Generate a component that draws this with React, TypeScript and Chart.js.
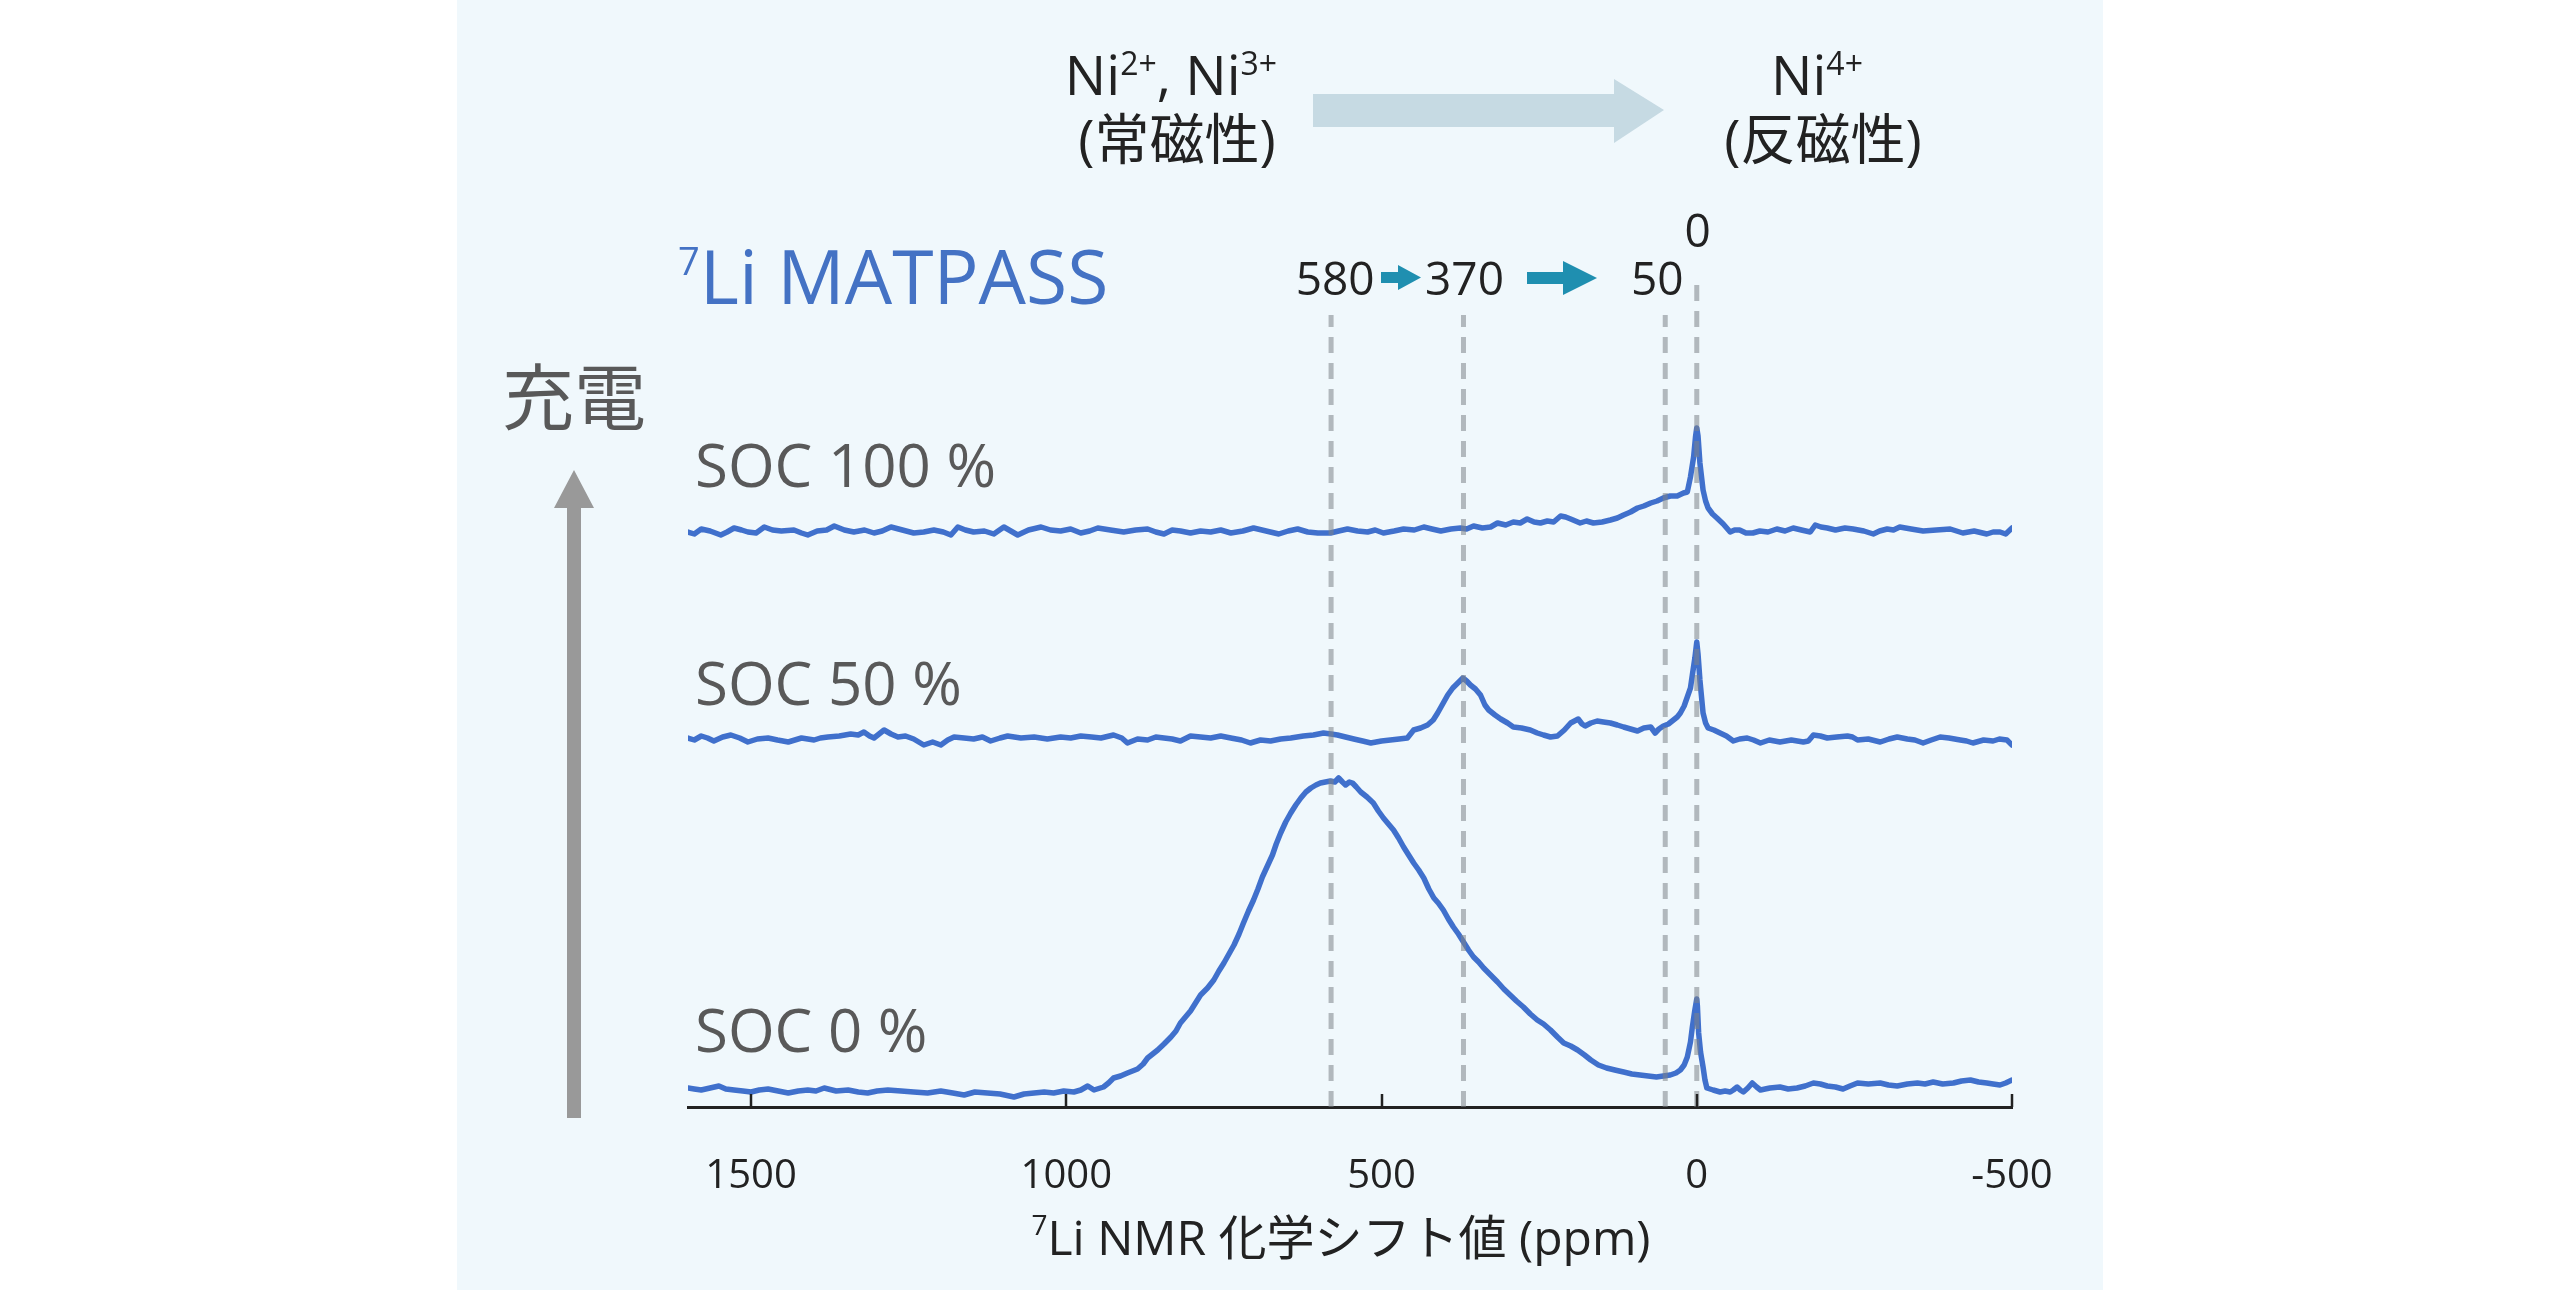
import { useEffect, useRef } from 'react';
import { Chart, registerables } from 'chart.js';

Chart.register(...registerables);

// ---- data: 7Li MATPASS spectra, [chemical shift (ppm), intensity (a.u., relative to each trace's baseline)] ----
const soc0: [number, number][] = [
  [1600, 4], [1590, 3], [1579, 2], [1565, 4], [1551, 6], [1540, 3], [1527, 2], [1513, 1], [1500, 0], [1487, 2],
  [1473, 3], [1457, 1], [1441, -1], [1425, 1], [1410, 2], [1397, 1], [1384, 4], [1365, 1], [1346, 2], [1330, 0],
  [1315, -1], [1300, 1], [1283, 2], [1262, 1], [1242, 0], [1220, -1], [1199, 1], [1180, -1], [1162, -3], [1145, 0],
  [1125, -1], [1105, -2], [1083, -5], [1067, -2], [1051, -1], [1035, 0], [1020, -1], [1004, 1], [988, 0], [977, 2],
  [966, 6], [956, 2], [941, 5], [933, 9], [925, 14], [914, 16], [903, 19], [895, 21], [887, 23], [878, 28],
  [871, 34], [863, 38], [855, 42], [845, 48], [834, 55], [826, 61], [819, 69], [811, 75], [803, 81], [795, 89],
  [787, 97], [776, 104], [766, 112], [758, 121], [750, 129], [742, 138], [734, 147], [726, 158], [719, 169], [711, 181],
  [703, 192], [696, 203], [689, 215], [681, 226], [673, 237], [667, 248], [660, 259], [652, 270], [644, 279], [636, 287],
  [628, 294], [620, 300], [612, 304], [604, 307], [597, 309], [589, 310], [581, 311], [574, 310], [568, 314], [562, 310],
  [557, 307], [551, 310], [546, 309], [540, 305], [533, 300], [523, 295], [513, 289], [505, 281], [497, 274], [489, 268],
  [481, 262], [473, 254], [465, 245], [457, 237], [449, 229], [441, 222], [433, 214], [425, 203], [417, 194], [410, 189],
  [402, 182], [394, 173], [386, 165], [378, 158], [370, 150], [362, 142], [354, 135], [346, 130], [338, 124], [327, 117],
  [316, 110], [306, 103], [296, 97], [286, 91], [275, 85], [264, 78], [253, 72], [243, 68], [232, 62], [221, 55],
  [211, 49], [200, 46], [189, 42], [178, 37], [168, 32], [156, 27], [143, 24], [130, 22], [116, 20], [103, 18],
  [90, 17], [77, 16], [64, 15], [53, 16], [42, 17], [33, 19], [26, 22], [20, 27], [15, 35], [10, 50],
  [7, 65], [3, 82], [0, 93], [-1, 86], [-3, 59], [-6, 40], [-10, 25], [-13, 12], [-16, 4], [-26, 2],
  [-37, 0], [-45, 1], [-53, 0], [-58, 2], [-64, 5], [-69, 2], [-74, 0], [-81, 4], [-88, 9], [-95, 5],
  [-101, 2], [-116, 4], [-132, 5], [-145, 3], [-159, 4], [-172, 6], [-185, 9], [-196, 8], [-207, 6], [-220, 5],
  [-232, 3], [-243, 6], [-255, 9], [-272, 8], [-291, 9], [-304, 7], [-318, 6], [-334, 8], [-350, 9], [-362, 8],
  [-375, 10], [-390, 8], [-407, 9], [-420, 11], [-434, 12], [-447, 10], [-460, 9], [-470, 8], [-481, 7], [-490, 9],
  [-500, 12],
];

const soc50: [number, number][] = [
  [1600, 0], [1590, -2], [1579, 2], [1569, 0], [1559, -3], [1545, 1], [1532, 3], [1518, 0], [1505, -4], [1490, -1],
  [1473, 0], [1458, -2], [1441, -4], [1420, 0], [1400, -2], [1390, 0], [1378, 1], [1360, 2], [1342, 4], [1330, 3],
  [1321, 6], [1312, 2], [1305, 0], [1289, 8], [1278, 4], [1267, 1], [1255, 2], [1242, -1], [1226, -7], [1212, -4],
  [1199, -7], [1188, -2], [1178, 1], [1162, 0], [1147, -1], [1133, 1], [1120, -3], [1105, 0], [1093, 2], [1072, 0],
  [1051, 1], [1030, -1], [1009, 1], [993, 0], [977, 2], [960, 1], [945, 0], [925, 3], [912, 0], [903, -5],
  [887, -1], [871, -2], [858, 1], [845, 0], [832, -1], [819, -3], [803, 2], [787, 1], [771, 0], [755, 2],
  [739, 0], [722, -2], [708, -5], [692, -2], [676, -3], [660, -1], [644, 0], [634, 1], [624, 2], [608, 3],
  [592, 5], [580, 4], [570, 3], [557, 1], [544, -1], [530, -3], [517, -5], [500, -3], [486, -2], [472, -1],
  [459, 0], [449, 8], [438, 10], [427, 13], [418, 18], [411, 25], [403, 34], [395, 43], [387, 50], [379, 55],
  [371, 60], [365, 57], [359, 53], [351, 49], [343, 43], [336, 33], [330, 28], [320, 23], [311, 19], [300, 15],
  [291, 11], [278, 10], [264, 8], [253, 5], [243, 3], [232, 1], [221, 2], [210, 8], [200, 15], [194, 17],
  [188, 19], [182, 14], [177, 12], [168, 15], [158, 17], [148, 16], [137, 15], [126, 13], [116, 11], [105, 9],
  [94, 7], [84, 10], [73, 11], [66, 5], [60, 9], [53, 12], [45, 14], [37, 18], [31, 21], [26, 25],
  [20, 32], [15, 41], [10, 50], [7, 63], [3, 80], [0, 96], [-2, 84], [-5, 58], [-10, 25], [-14, 15],
  [-18, 10], [-27, 8], [-37, 5], [-47, 2], [-58, -3], [-68, -1], [-80, 0], [-90, -2], [-101, -5], [-115, -2],
  [-132, -4], [-150, -2], [-169, -4], [-177, -3], [-185, 3], [-196, 2], [-207, 0], [-222, 1], [-239, 2], [-247, 1],
  [-255, -2], [-272, -1], [-291, -4], [-305, -1], [-318, 1], [-334, -1], [-346, -2], [-359, -5], [-372, -2], [-386, 1],
  [-400, 0], [-418, -2], [-428, -3], [-438, -5], [-455, -2], [-470, -3], [-480, -1], [-492, -2], [-500, -7],
];

const soc100: [number, number][] = [
  [1600, 0], [1590, -2], [1579, 3], [1565, 1], [1548, -3], [1538, 0], [1527, 4], [1515, 2], [1505, 0], [1492, -1],
  [1479, 5], [1466, 2], [1452, 1], [1432, 2], [1420, -1], [1410, -3], [1395, 1], [1380, 2], [1368, 6], [1352, 2],
  [1337, 0], [1320, 2], [1305, -1], [1292, 1], [1278, 5], [1260, 2], [1242, -1], [1226, 0], [1210, 2], [1195, 0],
  [1183, -3], [1172, 5], [1160, 2], [1147, 0], [1130, 1], [1115, -2], [1099, 5], [1088, 1], [1077, -3], [1060, 2],
  [1040, 5], [1025, 2], [1009, 1], [993, 3], [977, -1], [963, 1], [950, 4], [930, 2], [909, 0], [890, 2],
  [871, 3], [858, 0], [845, -2], [832, 2], [819, 1], [803, -1], [787, 1], [771, 0], [755, 2], [739, -1],
  [720, 1], [703, 4], [683, 1], [663, -2], [648, 1], [633, 3], [617, 0], [601, -1], [581, -1], [568, 1],
  [554, 3], [538, 1], [522, 0], [510, 2], [497, -1], [480, 1], [465, 3], [448, 2], [433, 5], [420, 3],
  [406, 1], [390, 3], [375, 4], [365, 3], [354, 6], [340, 4], [327, 5], [316, 9], [303, 7], [291, 10],
  [280, 9], [269, 13], [258, 10], [248, 9], [237, 11], [227, 10], [216, 16], [208, 15], [200, 13], [185, 9],
  [175, 11], [164, 9], [150, 10], [137, 12], [126, 14], [116, 17], [105, 20], [94, 24], [84, 26], [73, 29],
  [63, 31], [53, 34], [42, 36], [31, 36], [21, 39], [15, 40], [10, 55], [5, 75], [2, 95], [0, 104],
  [-2, 96], [-5, 69], [-10, 42], [-14, 31], [-18, 24], [-25, 18], [-32, 14], [-42, 8], [-53, 0], [-60, 2],
  [-68, 2], [-78, -1], [-89, -1], [-100, 1], [-113, 0], [-127, 3], [-140, 1], [-153, 4], [-166, 2], [-180, 0],
  [-188, 7], [-197, 5], [-207, 4], [-220, 2], [-235, 4], [-248, 3], [-265, 1], [-280, -2], [-290, 1], [-302, 3],
  [-312, 2], [-322, 5], [-340, 3], [-359, 1], [-380, 2], [-402, 3], [-412, 1], [-422, -1], [-440, 1], [-460, -2],
  [-470, 0], [-481, 0], [-490, -2], [-500, 4],
];

const traceLabels = ['SOC 0 %', 'SOC 50 %', 'SOC 100 %'];
const xTickValues = [1500, 1000, 500, 0, -500];
const peakShifts = [580, 370, 50, 0];

// ---- layout / style ----
const W = 2560;
const H = 1299;
const FONT = '"Open Sans", "Noto Sans", "Noto Sans CJK JP", sans-serif';
const PANEL_BG = '#f0f8fc';
const LINE_BLUE = '#4070cc';
const TEXT_DARK = '#222222';
const TEXT_GREY = '#595959';
const stackOffsets = [15, 369, 575]; // vertical offset of each trace (y-axis units)
const guideTop = { other: 792, zero: 829 }; // upper end of the dashed guides (y-axis units)
const traceLabelBaselines = [1052, 705, 487];
const peakLabelPlacement: Record<number, { dx: number; baseline: number }> = {
  580: { dx: 4, baseline: 295 },
  370: { dx: 1, baseline: 295 },
  50: { dx: -8, baseline: 295 },
  0: { dx: 1, baseline: 247 },
};

type Run = { text: string; size: number; rise?: number };

function drawRuns(
  ctx: CanvasRenderingContext2D,
  runs: Run[],
  x: number,
  baseline: number,
  align: 'left' | 'center',
  color: string,
) {
  ctx.fillStyle = color;
  ctx.textAlign = 'left';
  ctx.textBaseline = 'alphabetic';
  const widths = runs.map((r) => {
    ctx.font = `${r.size}px ${FONT}`;
    return ctx.measureText(r.text).width;
  });
  const total = widths.reduce((a, b) => a + b, 0);
  let cx = align === 'center' ? x - total / 2 : x;
  runs.forEach((r, i) => {
    ctx.font = `${r.size}px ${FONT}`;
    ctx.fillText(r.text, cx, baseline - (r.rise ?? 0));
    cx += widths[i];
  });
}

function fillPoly(ctx: CanvasRenderingContext2D, pts: [number, number][], color: string) {
  ctx.fillStyle = color;
  ctx.beginPath();
  pts.forEach(([px, py], i) => (i === 0 ? ctx.moveTo(px, py) : ctx.lineTo(px, py)));
  ctx.closePath();
  ctx.fill();
}

const decorPlugin = {
  id: 'nmrDecor',
  beforeDraw(chart: Chart) {
    const { ctx } = chart;
    ctx.save();
    ctx.fillStyle = PANEL_BG;
    ctx.fillRect(457, 0, 1646, 1290);
    ctx.restore();
  },
  afterDraw(chart: Chart) {
    const { ctx, chartArea } = chart;
    const xs = chart.scales.x;
    ctx.save();

    // inward tick marks on the shift axis
    ctx.strokeStyle = TEXT_DARK;
    ctx.lineWidth = 2.5;
    for (const t of xTickValues) {
      const px = Math.round(xs.getPixelForValue(t));
      ctx.beginPath();
      ctx.moveTo(px, chartArea.bottom);
      ctx.lineTo(px, chartArea.bottom - 13);
      ctx.stroke();
    }

    // axis title
    drawRuns(ctx, [{ text: '7', size: 28, rise: 20 }, { text: 'Li NMR 化学シフト値 (ppm)', size: 48 }], 1341, 1255, 'center', TEXT_DARK);

    // oxidation-state header with transition arrow
    drawRuns(ctx, [
      { text: 'Ni', size: 55 }, { text: '2+', size: 32, rise: 20 },
      { text: ', Ni', size: 55 }, { text: '3+', size: 32, rise: 20 },
    ], 1171, 95, 'center', TEXT_DARK);
    drawRuns(ctx, [{ text: '(常磁性)', size: 55 }], 1177, 159, 'center', TEXT_DARK);
    drawRuns(ctx, [{ text: 'Ni', size: 55 }, { text: '4+', size: 32, rise: 20 }], 1817, 95, 'center', TEXT_DARK);
    drawRuns(ctx, [{ text: '(反磁性)', size: 55 }], 1823, 159, 'center', TEXT_DARK);
    fillPoly(ctx, [[1313, 94], [1614, 94], [1614, 79], [1664, 110], [1614, 143], [1614, 127], [1313, 127]], '#c6dae3');

    // experiment title
    drawRuns(ctx, [{ text: '7', size: 38, rise: 29 }, { text: 'Li MATPASS', size: 75 }], 678, 304, 'left', '#4472c4');

    // charge direction
    drawRuns(ctx, [{ text: '充電', size: 72 }], 574, 424, 'center', TEXT_GREY);
    fillPoly(ctx, [[567, 1118], [567, 508], [554, 508], [574, 470], [594, 508], [581, 508], [581, 1118]], '#999999');

    // trace labels
    traceLabels.forEach((label, i) => {
      drawRuns(ctx, [{ text: label, size: 60 }], 695, traceLabelBaselines[i], 'left', TEXT_GREY);
    });

    // peak position labels above the dashed guides
    for (const p of peakShifts) {
      const place = peakLabelPlacement[p];
      drawRuns(ctx, [{ text: String(p), size: 46 }], xs.getPixelForValue(p) + place.dx, place.baseline, 'center', TEXT_DARK);
    }
    // shift arrows between the labels
    fillPoly(ctx, [[1381, 272], [1398, 272], [1398, 265], [1421, 277.5], [1398, 290], [1398, 283], [1381, 283]], '#1f8fb0');
    fillPoly(ctx, [[1527, 272], [1563, 272], [1563, 261], [1597, 278], [1563, 295], [1563, 284], [1527, 284]], '#1f8fb0');

    ctx.restore();
  },
};

export default function App() {
  const canvasRef = useRef<HTMLCanvasElement>(null);

  useEffect(() => {
    const canvas = canvasRef.current;
    if (!canvas) return;

    const traces = [soc0, soc50, soc100];
    const spectrumSets = traces.map((trace, i) => ({
      label: traceLabels[i],
      data: trace.map(([ppm, v]) => ({ x: ppm, y: v + stackOffsets[i] })),
      borderColor: LINE_BLUE,
      borderWidth: 5.5,
      borderJoinStyle: 'round',
      borderCapStyle: 'round',
      pointRadius: 0,
      tension: 0,
      fill: false,
      order: 2,
    }));
    const guideSets = peakShifts.map((p) => ({
      label: `${p} ppm`,
      data: [{ x: p, y: 0 }, { x: p, y: p === 0 ? guideTop.zero : guideTop.other }],
      borderColor: 'rgba(125,131,137,0.55)',
      borderWidth: 5,
      borderDash: [16, 10],
      pointRadius: 0,
      fill: false,
      order: 1,
    }));

    const chart = new Chart(canvas, {
      type: 'line',
      data: { datasets: [...spectrumSets, ...guideSets] as any },
      options: {
        responsive: false,
        animation: false,
        devicePixelRatio: 1,
        events: [],
        layout: { padding: { left: 688, right: 548, top: 107, bottom: 0 } },
        plugins: {
          legend: { display: false },
          tooltip: { enabled: false },
          title: { display: false },
        },
        scales: {
          x: {
            type: 'linear',
            reverse: true,
            min: -500,
            max: 1600,
            afterFit: (scale: any) => {
              scale.height = 192;
            },
            afterBuildTicks: (scale: any) => {
              scale.ticks = xTickValues.map((v) => ({ value: v }));
            },
            grid: { display: false },
            border: { display: true, color: TEXT_DARK, width: 3 },
            ticks: {
              includeBounds: false,
              autoSkip: false,
              maxRotation: 0,
              padding: 38,
              color: TEXT_DARK,
              font: { family: FONT, size: 40 },
              callback: (v: any) => String(v),
            },
          },
          y: { type: 'linear', display: false, min: 0, max: 1000 },
        },
      },
      plugins: [decorPlugin],
    });

    let alive = true;
    (document as any).fonts?.ready?.then(() => {
      if (alive) chart.draw();
    });

    return () => {
      alive = false;
      chart.destroy();
    };
  }, []);

  return (
    <div style={{ position: 'fixed', left: 0, top: 0, width: W, height: H, background: '#ffffff' }}>
      <canvas ref={canvasRef} width={W} height={H} style={{ display: 'block', width: W, height: H }} />
    </div>
  );
}
